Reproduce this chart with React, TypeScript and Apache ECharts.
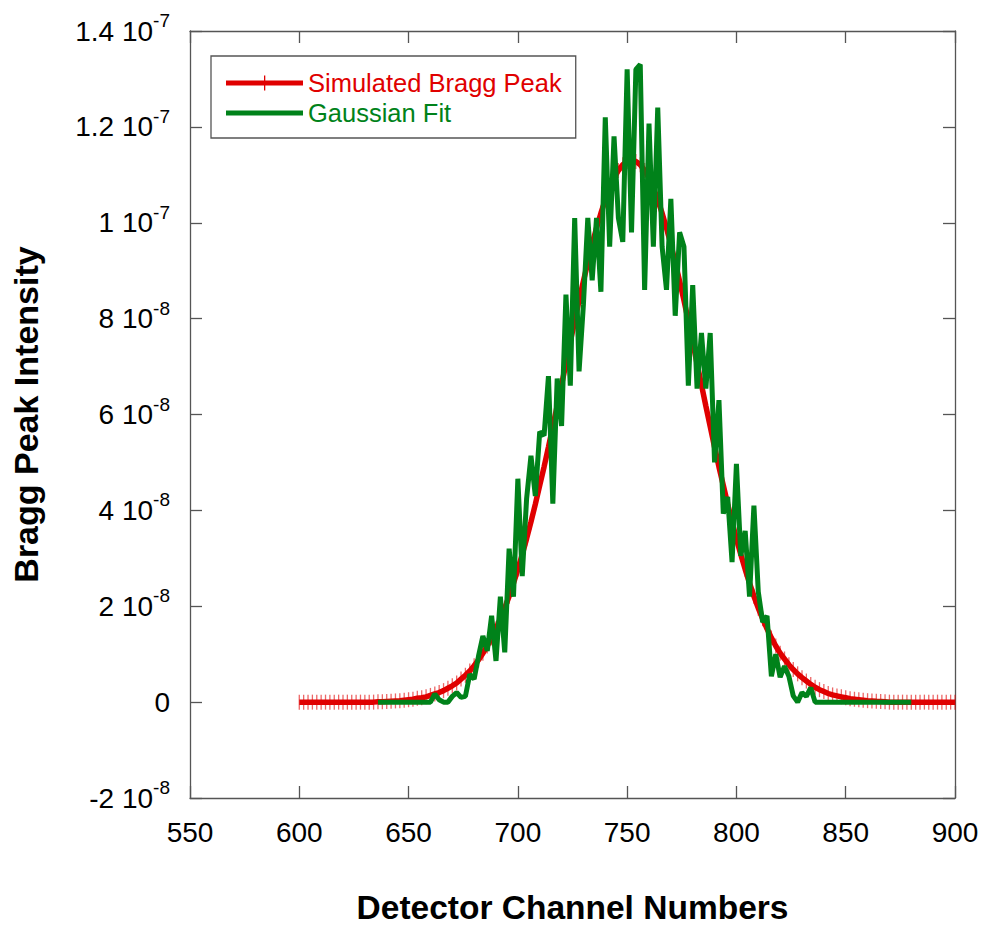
import React, { useEffect, useRef } from "react";
import * as echarts from "echarts";

// ---- data (intensities in units of 1e-8) ----
const channelStep = 2;
const redStartChannel = 600;
const redIntensity = [
  0, 0, 0, 0, 0, 0, 0, 0, 0, 0, 0, 0, 0, 0, 0, 0, 0, 0,
  0.01, 0.01, 0.015, 0.02, 0.025, 0.03, 0.04, 0.05, 0.06, 0.08,
  0.09, 0.11, 0.14, 0.17, 0.2, 0.24, 0.29, 0.34, 0.4, 0.48,
  0.56, 0.65, 0.76, 0.88, 1.02, 1.17, 1.34, 1.53, 1.74, 1.96,
  2.21, 2.48, 2.77, 3.08, 3.41, 3.76, 4.13, 4.52, 4.91, 5.32,
  5.75, 6.18, 6.62, 7.06, 7.52, 7.95, 8.38, 8.78, 9.17, 9.55,
  9.89, 10.2, 10.48, 10.73, 10.93, 11.09, 11.21, 11.28, 11.3, 11.28,
  11.21, 11.09, 10.93, 10.73, 10.48, 10.2, 9.89, 9.55, 9.17, 8.78,
  8.38, 7.95, 7.52, 7.06, 6.62, 6.18, 5.75, 5.32, 4.91, 4.52,
  4.13, 3.76, 3.41, 3.08, 2.77, 2.48, 2.21, 1.96, 1.74, 1.53,
  1.34, 1.17, 1.02, 0.9, 0.78, 0.68, 0.59, 0.51, 0.44, 0.37,
  0.31, 0.26, 0.22, 0.18, 0.15, 0.13, 0.11, 0.09, 0.07, 0.06,
  0.05, 0.04, 0.03, 0.025, 0.02, 0.015, 0.01,
  0, 0, 0, 0, 0, 0, 0, 0, 0, 0, 0, 0, 0, 0, 0, 0,
];
const greenStartChannel = 636;
const greenIntensity = [
  0, 0, 0, 0, 0, 0, 0, 0, 0, 0, 0, 0, 0,
  0.17, 0.05, 0, 0, 0.12, 0.2, 0.1, 0.12, 0.58, 0.48,
  0.96, 1.38, 1.07, 1.8, 0.86, 2.2, 1.04, 3.2, 2.2, 4.66,
  2.63, 4.24, 5.14, 4.3, 5.64, 5.56, 6.8, 4.14, 6.75, 5.76,
  8.5, 6.6, 10.1, 6.9, 8.3, 10.1, 8.8, 10.1, 8.56, 12.2,
  9.5, 11.8, 10.1, 9.6, 13.2, 9.8, 13.2, 13.3, 8.6, 12.07,
  9.5, 12.4, 9.5, 8.6, 10.5, 8.06, 9.8, 9.5, 6.6, 8.7,
  6.54, 7.7, 6.54, 7.7, 5.0, 6.3, 3.93, 4.28, 2.92, 4.97,
  3.05, 3.57, 2.2, 4.1, 2.3, 1.67, 1.8, 0.54, 1.0, 0.52,
  0.75, 0.54, 0.13, 0, 0.2, 0.12, 0.3,
  0, 0, 0, 0, 0, 0, 0, 0, 0, 0, 0, 0, 0, 0, 0, 0, 0, 0, 0, 0, 0, 0, 0,
];
const seriesNames = ["Simulated Bragg Peak", "Gaussian Fit"];
const xMin = 550;
const xMax = 900;
const xInterval = 50;
const yTickValues = [-2, 0, 2, 4, 6, 8, 10, 12, 14];
const yTickBase = ["-2 10", "0", "2 10", "4 10", "6 10", "8 10", "1 10", "1.2 10", "1.4 10"];
const yTickExp = ["-8", "", "-8", "-8", "-8", "-8", "-7", "-7", "-7"];
const xTitle = "Detector Channel Numbers";
const yTitle = "Bragg Peak Intensity";

const RED = "#e00000";
const GREEN = "#00821a";
const AXIS = "#555555";
const FONT = "'Liberation Sans', Arial, Helvetica, sans-serif";

export default function App() {
  const ref = useRef<HTMLDivElement>(null);
  useEffect(() => {
    if (!ref.current) return;
    const chart = echarts.init(ref.current, null, { renderer: "svg" });
    const redData = redIntensity.map((v, i) => [redStartChannel + i * channelStep, v]);
    const greenData = greenIntensity.map((v, i) => [greenStartChannel + i * channelStep, v]);
    const yFormatter = (val: number) => {
      const idx = yTickValues.findIndex((t) => Math.abs(t - val) < 1e-9);
      if (idx < 0) return "";
      const e = yTickExp[idx];
      return e ? `{m|${yTickBase[idx]}}{e|${e}}` : `{m|${yTickBase[idx]}}`;
    };
    const axisCommon = {
      axisLine: { show: true, onZero: false, lineStyle: { color: AXIS, width: 1.3 } },
      axisTick: { show: true, inside: true, length: 12, lineStyle: { color: AXIS, width: 1.3 } },
      splitLine: { show: false },
    };
    const redIcon = "path://M0,5 L77,5 L77,10 L0,10 Z M38,0 L39.3,0 L39.3,15 L38,15 Z";
    const greenIcon = "path://M0,0 L0,15 M0,5 L77,5 L77,10 L0,10 Z";
    chart.setOption({
      animation: false,
      backgroundColor: "#ffffff",
      textStyle: { fontFamily: FONT },
      grid: {
        left: 190,
        top: 31,
        width: 765,
        height: 767,
        containLabel: false,
        outerBoundsMode: "none",
      },
      legend: {
        orient: "vertical",
        left: 211,
        top: 56,
        padding: [12, 14, 10, 15],
        itemWidth: 77,
        itemHeight: 15,
        itemGap: 0,
        borderColor: AXIS,
        borderWidth: 1.3,
        backgroundColor: "#ffffff",
        itemStyle: { borderWidth: 0 },
        textStyle: { fontSize: 25.5, fontFamily: FONT, lineHeight: 30 },
        data: [
          { name: seriesNames[0], icon: redIcon, itemStyle: { color: RED }, textStyle: { color: RED } },
          { name: seriesNames[1], icon: greenIcon, itemStyle: { color: GREEN }, textStyle: { color: GREEN } },
        ],
      },
      xAxis: [
        {
          type: "value",
          position: "bottom",
          min: xMin,
          max: xMax,
          interval: xInterval,
          ...axisCommon,
          axisLabel: { show: true, fontSize: 28, color: "#000", margin: 20, fontFamily: FONT },
          name: xTitle,
          nameLocation: "middle",
          nameGap: 96,
          nameTextStyle: { fontSize: 33.5, lineHeight: 27, fontWeight: "bold", color: "#000", fontFamily: FONT },
        },
        {
          type: "value",
          position: "top",
          min: xMin,
          max: xMax,
          interval: xInterval,
          ...axisCommon,
          axisLabel: { show: false },
        },
      ],
      yAxis: [
        {
          type: "value",
          position: "left",
          min: yTickValues[0],
          max: yTickValues[yTickValues.length - 1],
          interval: 2,
          ...axisCommon,
          axisLabel: {
            show: true,
            margin: 20,
            formatter: yFormatter,
            rich: {
              m: { fontSize: 28, color: "#000", fontFamily: FONT, lineHeight: 40 },
              e: { fontSize: 19, color: "#000", fontFamily: FONT, lineHeight: 20, verticalAlign: "top" },
            },
          },
          name: yTitle,
          nameLocation: "middle",
          nameRotate: 90,
          nameGap: 147,
          nameTextStyle: { fontSize: 34, fontWeight: "bold", color: "#000", fontFamily: FONT },
        },
        {
          type: "value",
          position: "right",
          min: yTickValues[0],
          max: yTickValues[yTickValues.length - 1],
          interval: 2,
          ...axisCommon,
          axisLabel: { show: false },
        },
      ],
      series: [
        {
          name: seriesNames[0],
          type: "line",
          data: redData,
          xAxisIndex: 0,
          yAxisIndex: 0,
          symbol: "rect",
          symbolSize: [1.3, 15],
          showSymbol: true,
          itemStyle: { color: "rgba(224,0,0,0.6)", borderWidth: 0 },
          lineStyle: { color: RED, width: 5.5 },
          z: 2,
          silent: true,
        },
        {
          name: seriesNames[1],
          type: "line",
          data: greenData,
          xAxisIndex: 0,
          yAxisIndex: 0,
          symbol: "none",
          itemStyle: { color: GREEN },
          lineStyle: { color: GREEN, width: 5 },
          z: 3,
          silent: true,
        },
      ],
    });
    return () => chart.dispose();
  }, []);
  return (
    <div
      ref={ref}
      style={{ position: "fixed", left: 0, top: 0, width: 982, height: 926, background: "#fff" }}
    />
  );
}
